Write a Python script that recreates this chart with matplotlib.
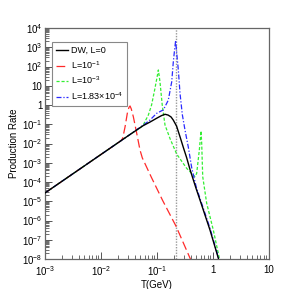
import matplotlib
matplotlib.use("Agg")
import matplotlib.pyplot as plt
from matplotlib.ticker import FixedLocator, LogLocator, NullFormatter

plt.rcParams['font.family'] = ['Liberation Sans', 'DejaVu Sans']
plt.rcParams['mathtext.fontset'] = 'custom'
plt.rcParams['mathtext.rm'] = 'Liberation Sans'

# DW, L=0
t_dw = [0.001, 0.01, 0.0316, 0.056, 0.075, 0.1, 0.12, 0.139, 0.158, 0.178, 0.195,
        0.224, 0.258, 0.295, 0.339, 0.388, 0.5, 0.586, 0.883, 1.245, 1.3]
y_dw = [2.7e-5, 2.7e-3, 2.7e-2, 8.3e-2, 0.13, 0.21, 0.28, 0.33, 0.30, 0.24, 0.166,
        0.079, 0.022, 6.3e-3, 1.8e-3, 4.5e-4, 4.5e-5, 1.15e-5, 3.2e-7, 1.1e-8, 7e-9]

# L=10^-1
t_l1 = [0.001, 0.01, 0.0224, 0.0244, 0.0269, 0.0295, 0.0316, 0.033, 0.0347, 0.0378,
        0.0434, 0.0497, 0.0546, 0.079, 0.126, 0.219, 0.389, 0.41]
y_l1 = [2.7e-5, 2.7e-3, 0.0135, 0.0186, 0.074, 0.37, 0.76, 0.89, 0.63, 0.245,
        0.034, 4.6e-3, 1.8e-3, 1.8e-4, 1.1e-5, 5e-7, 1.1e-8, 7.9e-9]

# L=10^-3
t_l3 = [0.001, 0.01, 0.0316, 0.056, 0.060, 0.070, 0.080, 0.092, 0.101, 0.1057, 0.113,
        0.124, 0.139, 0.171, 0.225, 0.339, 0.447, 0.477, 0.511, 0.570, 0.611, 0.628,
        0.655, 0.771, 1.012, 1.297, 1.35]
y_l3 = [2.7e-5, 2.7e-3, 2.7e-2, 8.3e-2, 0.126, 0.30, 1.0, 7.4, 31.6, 66, 16,
        1.0, 0.091, 0.0178, 2.8e-3, 5.1e-4, 2.3e-4, 1.9e-4, 2.8e-4, 4.6e-3, 0.045, 0.0102,
        1.9e-4, 7.9e-6, 3.2e-7, 1.1e-8, 7.9e-9]

# L=1.83x10^-4
t_l4 = [0.001, 0.01, 0.0316, 0.057, 0.075, 0.0986, 0.130, 0.159, 0.183, 0.195, 0.2065,
        0.2153, 0.2265, 0.2404, 0.2576, 0.283, 0.316, 0.363, 0.416, 0.501, 0.586,
        0.883, 1.259, 1.318]
y_l4 = [2.7e-5, 2.7e-3, 2.7e-2, 0.091, 0.166, 0.37, 0.56, 1.78, 15.8, 158, 794,
        2240, 398, 66, 4.0, 0.32, 0.05, 6.3e-3, 5.6e-4, 5.6e-5, 1.4e-5,
        4e-7, 1.1e-8, 7.9e-9]

t_mark = 0.215

fig = plt.figure(figsize=(3.0, 2.89), dpi=100)
ax = fig.add_axes([0.15, 0.1038, 0.7467, 0.7993])

ax.plot(t_dw, y_dw, color='black', lw=1.0, zorder=5, label='DW, L=0')
ax.plot(t_l1, y_l1, color='#ff2a2a', lw=0.9, dashes=(7, 3), label='L=10$^{-1}$')
ax.plot(t_l3, y_l3, color='#33ee33', lw=0.9, dashes=(2.5, 1.5), label='L=10$^{-3}$')
ax.plot(t_l4, y_l4, color='#2a2aff', lw=0.9, dashes=(4, 1.5, 1, 1.5),
        label='L=1.83$\\times$10$^{-4}$')
ax.axvline(t_mark, color='#999999', lw=1.0, ls=(0, (1, 1)), zorder=1)

ax.set_xscale('log')
ax.set_yscale('log')
ax.set_xlim(1e-3, 10)
ax.set_ylim(1e-8, 1e4)

xt = [1e-3, 1e-2, 1e-1, 1, 10]
xl = ['10$^{-3}$', '10$^{-2}$', '10$^{-1}$', '1', '10']
yt = [10.0 ** k for k in range(-8, 5)]
yl = ['10$^{-%d}$' % k for k in range(8, 0, -1)] + ['1', '10', '10$^{2}$', '10$^{3}$', '10$^{4}$']
ax.xaxis.set_major_locator(FixedLocator(xt))
ax.set_xticklabels(xl)
ax.yaxis.set_major_locator(FixedLocator(yt))
ax.set_yticklabels(yl)
ax.xaxis.set_minor_locator(LogLocator(base=10, subs=range(2, 10), numticks=20))
ax.yaxis.set_minor_locator(LogLocator(base=10, subs=range(2, 10), numticks=30))
ax.xaxis.set_minor_formatter(NullFormatter())
ax.yaxis.set_minor_formatter(NullFormatter())

ax.tick_params(which='both', direction='in', labelsize=7, top=False, right=False,
               color='#555555')
ax.tick_params(axis='x', pad=4)
ax.tick_params(axis='y', pad=2)
ax.tick_params(which='major', length=5, width=0.7)
ax.tick_params(which='minor', length=3, width=0.6)
for s in ax.spines.values():
    s.set_color('#666666')
    s.set_linewidth(0.9)

ax.set_xlabel('T(GeV)', fontsize=7, labelpad=1)
ax.set_ylabel('Production Rate', fontsize=7, labelpad=2)

leg = ax.legend(loc='upper left', bbox_to_anchor=(0.03, 0.94), fontsize=6.5,
                fancybox=False, edgecolor='#888888', framealpha=1,
                handlelength=1.3, handletextpad=0.35, labelspacing=0.45,
                borderpad=0.45, borderaxespad=0)
leg.get_frame().set_linewidth(0.8)

fig.savefig('out.png', dpi=100)
